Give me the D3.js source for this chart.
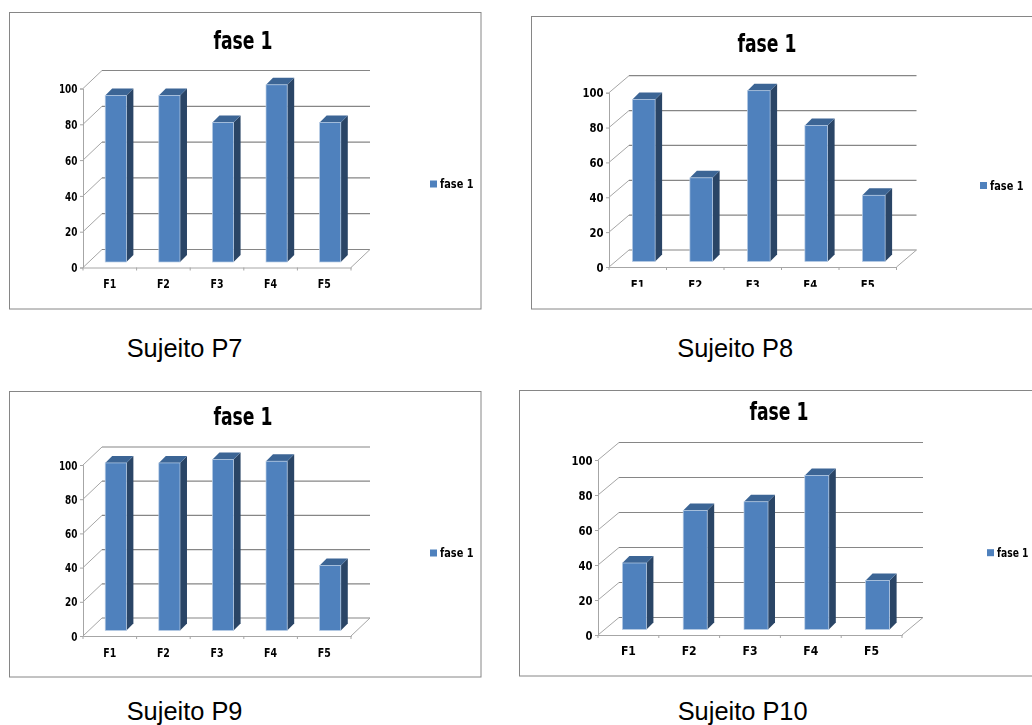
<!DOCTYPE html>
<html>
<head>
<meta charset="utf-8">
<script src="https://cdn.jsdelivr.net/npm/d3@7"></script>
<style>
  html, body { margin: 0; padding: 0; background: #fff; overflow: hidden; }
  text { font-family: "DejaVu Sans Condensed", "DejaVu Sans", sans-serif; }
  .panel { filter: blur(0.35px); }
</style>
</head>
<body>
<div id="chart"></div>
<script>
// data
const categories = ["F1", "F2", "F3", "F4", "F5"];
const yTicks = [0, 20, 40, 60, 80, 100];
const seriesName = "fase 1";
const valuesP7 = [93, 93, 78, 99, 78];
const valuesP8 = [93, 48, 98, 78, 38];
const valuesP9 = [98, 98, 100, 99, 38];
const valuesP10 = [38, 68, 73, 88, 28];

// layout of each panel (frame, axes, title, legend, caption)
// digitW = squeezed width of one tick digit, the charts are not all the same scale
const panels = [
  { values: valuesP7, caption: "Sujeito P7", frame: [9.5, 12.5, 481, 309], x0: 83, x1: 351, y0: 267.5, y100: 88.5, dx: 19, dy: 18,
    titleX: 243, titleY: 49, legendX: 430, legendY: 184, legendW: 33.5, labelY: 288, captionX: 126.7, captionY: 356.7, digitW: 6.2, labelW: 13 },
  { values: valuesP8, caption: "Sujeito P8", frame: [531.5, 16.5, 1040, 309], x0: 609, x1: 896.5, y0: 267, y100: 92.7, dx: 20, dy: 17,
    titleX: 767, titleY: 52.3, legendX: 980, legendY: 185.5, legendW: 33.5, labelY: 289, captionX: 677.3, captionY: 356.7, digitW: 7, labelW: 14, clipAt: 286.7 },
  { values: valuesP9, caption: "Sujeito P9", frame: [9.5, 391.5, 481, 677], x0: 83, x1: 351, y0: 636, y100: 465, dx: 19, dy: 18,
    titleX: 243, titleY: 425, legendX: 430, legendY: 553, legendW: 33.5, labelY: 656.5, captionX: 126.7, captionY: 720, digitW: 6.2, labelW: 13 },
  { values: valuesP10, caption: "Sujeito P10", frame: [519.5, 390.5, 1040, 676], x0: 598, x1: 902, y0: 635, y100: 460, dx: 21, dy: 17.5,
    titleX: 779, titleY: 420, legendX: 987, legendY: 552.7, legendW: 31.5, labelY: 655, captionX: 677.7, captionY: 720, digitW: 7, labelW: 15 }
];

const barDepth = 7;
const gridColor = "#868686";
const wallColor = "#a6a6a6";
const frontColor = "#4f81bd";
const edgeColor = "#b9cde5";
const sideColor = "#2a4566";
const topColor = "#3c6595";

const svg = d3.select("#chart").append("svg")
  .attr("width", 1032)
  .attr("height", 725);

panels.forEach(drawPanel);

// squeeze a label to the width it has in the picture
function squeeze(sel, w) {
  sel.attr("textLength", w).attr("lengthAdjust", "spacingAndGlyphs");
}

function drawPanel(p, idx) {
  const g = svg.append("g").attr("class", "panel");

  // frame
  g.append("rect")
    .attr("x", p.frame[0])
    .attr("y", p.frame[1])
    .attr("width", p.frame[2] - p.frame[0])
    .attr("height", p.frame[3] - p.frame[1])
    .attr("fill", "#fff")
    .attr("stroke", gridColor)
    .attr("stroke-width", 1);

  const y = d3.scaleLinear().domain([0, 100]).range([p.y0, p.y100]);
  const x = d3.scaleBand().domain(categories).range([p.x0, p.x1]);

  // back wall gridlines and the diagonals on the side wall
  g.append("g").selectAll("line")
    .data(yTicks)
    .join("line")
    .attr("x1", p.x0 + p.dx)
    .attr("x2", p.x1 + p.dx)
    .attr("y1", d => y(d) - p.dy)
    .attr("y2", d => y(d) - p.dy)
    .attr("stroke", gridColor)
    .attr("stroke-width", 1.2);

  g.append("g").selectAll("line")
    .data(yTicks)
    .join("line")
    .attr("x1", p.x0)
    .attr("x2", p.x0 + p.dx)
    .attr("y1", d => y(d))
    .attr("y2", d => y(d) - p.dy)
    .attr("stroke", wallColor)
    .attr("stroke-width", 1);

  // floor right edge
  g.append("line")
    .attr("x1", p.x1)
    .attr("x2", p.x1 + p.dx)
    .attr("y1", p.y0)
    .attr("y2", p.y0 - p.dy)
    .attr("stroke", wallColor);

  // axes
  const yAxis = g.append("g")
    .attr("transform", "translate(" + p.x0 + ",0)")
    .call(d3.axisLeft(y).tickValues(yTicks).tickSize(3).tickPadding(2.5));
  yAxis.selectAll("text")
    .attr("font-size", 13)
    .attr("font-weight", "bold")
    .attr("fill", "#000")
    .attr("lengthAdjust", "spacingAndGlyphs")
    .attr("textLength", d => String(d).length * p.digitW);
  yAxis.selectAll("line, path").attr("stroke", wallColor);

  const xAxis = g.append("g")
    .attr("transform", "translate(0," + p.y0 + ")")
    .call(d3.axisBottom(x).tickSize(0).tickFormat(""));
  xAxis.selectAll("path").attr("stroke", wallColor);
  // ticks sit between the categories
  xAxis.selectAll(".tick").remove();
  g.append("g").selectAll("line")
    .data(d3.range(categories.length + 1))
    .join("line")
    .attr("x1", d => p.x0 + d * x.step())
    .attr("x2", d => p.x0 + d * x.step())
    .attr("y1", p.y0)
    .attr("y2", p.y0 + 3)
    .attr("stroke", wallColor);

  // category labels; the P8 picture is cut through the middle of them
  const labelParent = g.append("g");
  if (p.clipAt) {
    svg.append("clipPath").attr("id", "labelClip" + idx)
      .append("rect")
      .attr("x", p.frame[0])
      .attr("y", p.y0)
      .attr("width", 500)
      .attr("height", p.clipAt - p.y0);
    labelParent.attr("clip-path", "url(#labelClip" + idx + ")");
  }
  labelParent.selectAll("text")
    .data(categories)
    .join("text")
    .attr("x", d => x(d) + x.bandwidth() / 2)
    .attr("y", p.labelY)
    .attr("text-anchor", "middle")
    .attr("font-size", 12.5)
    .attr("font-weight", "bold")
    .call(squeeze, p.labelW)
    .text(d => d);

  // 3d bars
  const barWidth = x.step() * 0.395;
  const shift = 6;  // bars stand a little inside the floor
  const lift = 5.5;
  const rows = categories.map((c, i) => ({ c: c, v: p.values[i] }));
  const bars = g.append("g").selectAll("g").data(rows).join("g");
  const left = d => x(d.c) + x.bandwidth() / 2 + shift - barWidth / 2;
  const base = p.y0 - lift;
  const topY = d => y(d.v) - lift;

  bars.append("path")
    .attr("fill", sideColor)
    .attr("d", d => {
      const r = left(d) + barWidth;
      return "M" + r + "," + topY(d) + "L" + (r + barDepth) + "," + (topY(d) - barDepth) +
        "L" + (r + barDepth) + "," + (base - barDepth) + "L" + r + "," + base + "Z";
    });
  bars.append("path")
    .attr("fill", topColor)
    .attr("d", d => {
      const l = left(d);
      return "M" + l + "," + topY(d) + "L" + (l + barDepth) + "," + (topY(d) - barDepth) +
        "L" + (l + barWidth + barDepth) + "," + (topY(d) - barDepth) + "L" + (l + barWidth) + "," + topY(d) + "Z";
    });
  bars.append("rect")
    .attr("x", left)
    .attr("y", topY)
    .attr("width", barWidth)
    .attr("height", d => base - topY(d))
    .attr("fill", frontColor)
    .attr("stroke", edgeColor)
    .attr("stroke-width", 0.7);

  // title
  g.append("text")
    .attr("x", p.titleX)
    .attr("y", p.titleY)
    .attr("text-anchor", "middle")
    .attr("font-size", 24)
    .attr("font-weight", "bold")
    .call(squeeze, 59)
    .text(seriesName);

  // legend
  g.append("rect")
    .attr("x", p.legendX)
    .attr("y", p.legendY - 3.5)
    .attr("width", 7)
    .attr("height", 7)
    .attr("fill", frontColor);
  g.append("text")
    .attr("x", p.legendX + 10)
    .attr("y", p.legendY + 4)
    .attr("font-size", 12)
    .attr("font-weight", "bold")
    .call(squeeze, p.legendW)
    .text(seriesName);

  // caption under the chart
  svg.append("text")
    .attr("x", p.captionX)
    .attr("y", p.captionY)
    .attr("font-size", 25.4)
    .style("font-family", '"Liberation Sans", Arial, sans-serif')
    .text(p.caption);
}
</script>
</body>
</html>
